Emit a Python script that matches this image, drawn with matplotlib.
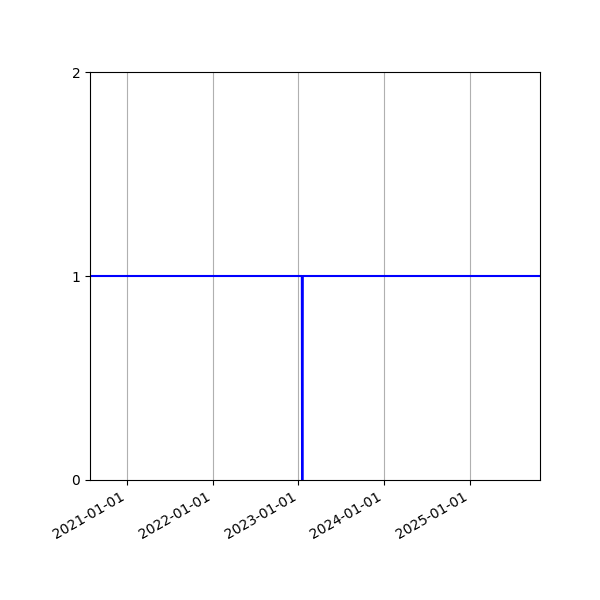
import numpy as np
import pandas as pd
import matplotlib
matplotlib.use("Agg")
import matplotlib.pyplot as plt
import matplotlib.dates as mdates

# breakpoints of the series (value 1 everywhere, short dip to 0 mid-Jan 2023)
dates = pd.to_datetime(['2020-07-28', '2023-01-16', '2023-01-17',
                        '2023-01-19', '2023-01-20', '2025-10-26'])
values = [1, 1, 0, 0, 1, 1]

fig, ax = plt.subplots(figsize=(6, 6), dpi=100)
ax.plot(dates, values, color='blue', lw=1.5)

ax.set_xlim(dates[0], dates[-1])
ax.set_ylim(0, 2)
ax.set_yticks([0, 1, 2])
ax.xaxis.set_major_locator(mdates.YearLocator())
ax.xaxis.set_major_formatter(mdates.DateFormatter('%Y-%m-%d'))
ax.grid(True, axis='x')
fig.autofmt_xdate()
fig.subplots_adjust(left=0.15, right=0.9, top=0.88, bottom=0.2)

fig.savefig('out.png')
